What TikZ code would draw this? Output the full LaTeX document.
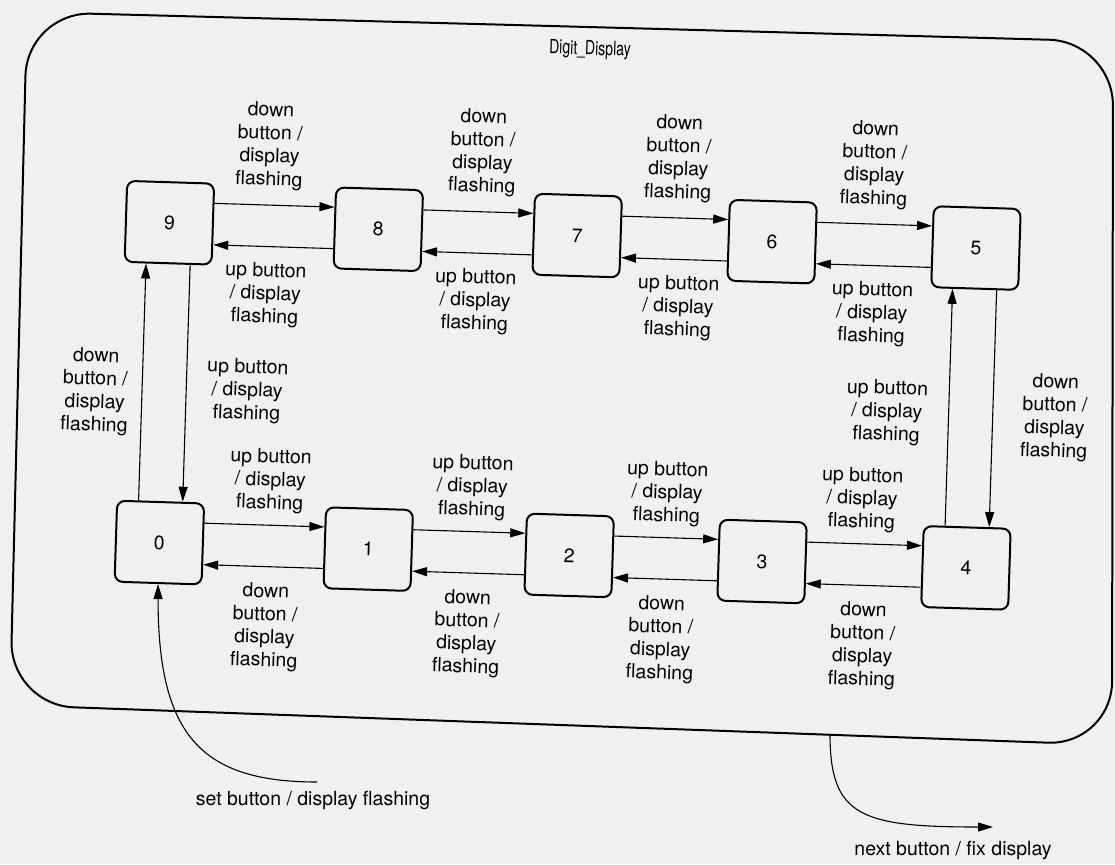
\documentclass[tikz,border=0pt]{standalone}
\usepackage{fontspec}
\setmainfont{TeX Gyre Heros}
\usetikzlibrary{arrows.meta}

\begin{document}
\begin{tikzpicture}[
  x=1pt, y=-1pt,
  state/.style={draw, line width=2pt, rounded corners=8pt, minimum width=87pt,
                minimum height=81pt, font=\fontsize{19.5}{23}\selectfont},
  lbl/.style={align=center, inner sep=1pt, font=\fontsize{19.5}{23}\selectfont},
  arr/.style={-{Triangle[length=15pt, width=9pt]}, line width=1.1pt}
]
\fill[black!6] (0,0) rectangle (1115,864);
\useasboundingbox (0,0) rectangle (1115,864);

\draw[line width=2pt, rounded corners=64pt]
  (570,26.5) -- (1113,41.5) -- (1112,745) -- (10,705) -- (27,12) -- cycle;

\begin{scope}[rotate around={-1.8:(557,432)}, transform shape]
\node[lbl, font=\fontsize{19.5}{23}\selectfont, xscale=0.72] (title) at (578,49) {Digit\_Display};

\node[state] (d9) at (163,235) {9};
\node[state] (d8) at (372,235) {8};
\node[state] (d7) at (571,235) {7};
\node[state] (d6) at (766,235) {6};
\node[state] (d5) at (970,235) {5};
\node[state] (d0) at (163,555) {0};
\node[state] (d1) at (372,555) {1};
\node[state] (d2) at (573,555) {2};
\node[state] (d3) at (766,555) {3};
\node[state] (d4) at (970,555) {4};

\draw[arr] (d9.25) -- (d8.155);
\draw[arr] (d8.25) -- (d7.155);
\draw[arr] (d7.25) -- (d6.155);
\draw[arr] (d6.25) -- (d5.155);
\draw[arr] (d8.-155) -- (d9.-25);
\draw[arr] (d7.-155) -- (d8.-25);
\draw[arr] (d6.-155) -- (d7.-25);
\draw[arr] (d5.-155) -- (d6.-25);

\draw[arr] (d0.25) -- (d1.155);
\draw[arr] (d1.25) -- (d2.155);
\draw[arr] (d2.25) -- (d3.155);
\draw[arr] (d3.25) -- (d4.155);
\draw[arr] (d1.-155) -- (d0.-25);
\draw[arr] (d2.-155) -- (d1.-25);
\draw[arr] (d3.-155) -- (d2.-25);
\draw[arr] (d4.-155) -- (d3.-25);

\draw[arr] (d0.118) -- (d9.-118);
\draw[arr] (d9.-62) -- (d0.62);
\draw[arr] (d4.118) -- (d5.-118);
\draw[arr] (d5.-62) -- (d4.62);

\node[lbl] (l98) at (261,155) {down\\button /\\display\\flashing};
\node[lbl] (l87) at (474,155) {down\\button /\\display\\flashing};
\node[lbl] (l76) at (670,155) {down\\button /\\display\\flashing};
\node[lbl] (l65) at (866,155) {down\\button /\\display\\flashing};
\node[lbl] (l89) at (261,304) {up button\\/ display\\flashing};
\node[lbl] (l78) at (471,304) {up button\\/ display\\flashing};
\node[lbl] (l67) at (674,304) {up button\\/ display\\flashing};
\node[lbl] (l56) at (868,304) {up button\\/ display\\flashing};

\node[lbl] (l09) at (94,406) {down\\button /\\display\\flashing};
\node[lbl] (l90) at (246,401) {up button\\/ display\\flashing};
\node[lbl] (l45) at (886,402) {up button\\/ display\\flashing};
\node[lbl] (l54) at (1054,402) {down\\button /\\display\\flashing};

\node[lbl] (l01) at (272,490) {up button\\/ display\\flashing};
\node[lbl] (l12) at (474,490) {up button\\/ display\\flashing};
\node[lbl] (l23) at (669,490) {up button\\/ display\\flashing};
\node[lbl] (l34) at (864,490) {up button\\/ display\\flashing};
\node[lbl] (l10) at (271,636) {down\\button /\\display\\flashing};
\node[lbl] (l21) at (473,636) {down\\button /\\display\\flashing};
\node[lbl] (l32) at (667,636) {down\\button /\\display\\flashing};
\node[lbl] (l43) at (869,636) {down\\button /\\display\\flashing};
\end{scope}

\coordinate (setin) at (317,782);
\coordinate (exit) at (830,734);
\coordinate (fixend) at (993,827);
\draw[arr] (setin) .. controls +(-117,0) and +(0,150) .. (d0.south);
\draw[arr] (exit) .. controls +(0,82) and +(-133,0) .. (fixend);
\node[lbl] (setlbl) at (313,800) {set button / display flashing};
\node[lbl] (fixlbl) at (953,850) {next button / fix display};
\end{tikzpicture}
\end{document}
